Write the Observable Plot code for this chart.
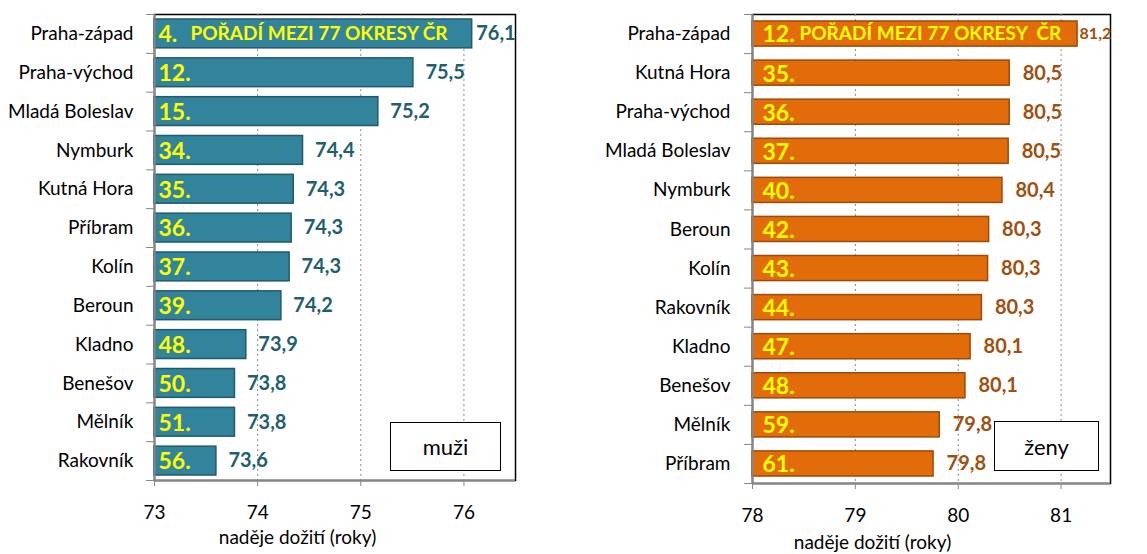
<!DOCTYPE html>
<html>
<head>
<meta charset="utf-8">
<script src="https://cdn.jsdelivr.net/npm/d3@7"></script>
<script src="https://cdn.jsdelivr.net/npm/@observablehq/plot@0.6"></script>
<style>
  html, body { margin: 0; padding: 0; background: white; }
  #wrap { position: relative; width: 1147px; height: 554px; display: flex; overflow: hidden; }
  .note { position: absolute; border: 1.5px solid #000; background: white; box-sizing: border-box;
          font-family: Lato, sans-serif; font-size: 22px; display: flex; align-items: center; justify-content: center; }
</style>
</head>
<body>
<div id="wrap"></div>
<script>
// ---- data ----
const districtsM = ["Praha-západ","Praha-východ","Mladá Boleslav","Nymburk","Kutná Hora","Příbram","Kolín","Beroun","Kladno","Benešov","Mělník","Rakovník"];
const valuesM = [76.08, 75.51, 75.17, 74.44, 74.35, 74.33, 74.31, 74.23, 73.89, 73.78, 73.78, 73.60];
const labelsM = ["76,1","75,5","75,2","74,4","74,3","74,3","74,3","74,2","73,9","73,8","73,8","73,6"];
const ranksM = ["4.","12.","15.","34.","35.","36.","37.","39.","48.","50.","51.","56."];

const districtsF = ["Praha-západ","Kutná Hora","Praha-východ","Mladá Boleslav","Nymburk","Beroun","Kolín","Rakovník","Kladno","Benešov","Mělník","Příbram"];
const valuesF = [81.16, 80.50, 80.50, 80.49, 80.43, 80.30, 80.29, 80.23, 80.12, 80.07, 79.82, 79.76];
const labelsF = ["81,2","80,5","80,5","80,5","80,4","80,3","80,3","80,3","80,1","80,1","79,8","79,8"];
const ranksF = ["12.","35.","36.","37.","40.","42.","43.","44.","47.","48.","59.","61."];

const ticksM = [73, 74, 75, 76];
const ticksF = [78, 79, 80, 81];
const noteText = "POŘADÍ MEZI 77 OKRESY ČR";
const noteTextF = "POŘADÍ MEZI 77 OKRESY  ČR";
const axisTitle = "naděje dožití (roky)";

function panel(o) {
  const n = o.districts.length;
  const data = o.districts.map((d, i) => ({i, d, v: o.values[i], label: o.labels[i], rank: o.ranks[i]}));
  const x0 = o.domain[0];
  return Plot.plot({
    width: o.width, height: 554,
    marginLeft: o.marginLeft, marginRight: o.marginRight, marginTop: 14, marginBottom: o.marginBottom,
    style: {fontFamily: "Lato, sans-serif", fontSize: "19px", color: "#000", background: "white", overflow: "visible"},
    x: {domain: o.domain, label: null},
    y: {domain: [n, 0], label: null},
    marks: [
      Plot.frame({stroke: "#000", strokeWidth: 1.5}),
      Plot.ruleX(o.ticks.slice(1), {stroke: "#8a8a8a", strokeDasharray: "2,3"}),
      Plot.rectX(data, {x1: x0, x2: "v", y1: "i", y2: d => d.i + 1, insetTop: o.inset, insetBottom: o.inset,
        fill: o.barFill, stroke: o.barStroke, strokeWidth: 1.5}),
      Plot.ruleX([x0], {stroke: "#868686", strokeWidth: 2}),
      Plot.ruleY([n], {stroke: "#868686", strokeWidth: 2}),
      Plot.axisX({ticks: o.ticks, tickSize: 6, tickPadding: 19, stroke: "#868686", fill: "#000", fontSize: 19, tickFormat: d => String(d), label: null}),
      Plot.axisY({ticks: d3.range(n + 1), tickSize: 8, tickFormat: () => "", stroke: "#868686", label: null}),
      Plot.axisY({ticks: d3.range(n).map(i => i + 0.5), tickSize: 0, tickPadding: o.labelPad,
        tickFormat: v => o.districts[Math.floor(v)], fill: "#000", fontSize: 19, label: null}),
      Plot.text(data, {x: x0, y: d => d.i + 0.5, text: "rank", dx: o.rankDx, dy: 1, textAnchor: "start",
        fill: "#FFFF00", fontWeight: "bold", fontSize: 23}),
      Plot.text(data.slice(0, 1), {x: x0, y: d => d.i + 0.5, text: () => o.note, dx: o.noteDx, textAnchor: "start",
        fill: "#FFFF00", fontWeight: "bold", fontSize: 19}),
      Plot.text(data.slice(0, 1), {x: "v", y: d => d.i + 0.5, text: "label", dx: o.firstDx, textAnchor: "start",
        fill: o.valueColor, fontWeight: "bold", fontSize: o.firstSize}),
      Plot.text(data.slice(1), {x: "v", y: d => d.i + 0.5, text: "label", dx: o.valueDx, textAnchor: "start",
        fill: o.valueColor, fontWeight: "bold", fontSize: 20}),
      Plot.text([axisTitle], {frameAnchor: "bottom-left", dx: o.titleDx, dy: o.titleDy, textAnchor: "middle",
        fill: "#000", fontSize: 19})
    ]
  });
}

const wrap = document.getElementById("wrap");
wrap.append(panel({
  districts: districtsM, values: valuesM, labels: labelsM, ranks: ranksM,
  domain: [73, 76.5], ticks: ticksM, width: 590, marginLeft: 154, marginRight: 75, marginBottom: 74,
  barFill: "#31849B", barStroke: "#215A68", valueColor: "#215F6E", inset: 5,
  rankDx: 4, note: noteText, noteDx: 36, firstDx: 4, firstSize: 20, valueDx: 12,
  labelPad: 21, titleDx: 143, titleDy: 63
}));
wrap.append(panel({
  districts: districtsF, values: valuesF, labels: labelsF, ranks: ranksF,
  domain: [78, 81.48], ticks: ticksF, width: 557, marginLeft: 162, marginRight: 37, marginBottom: 71,
  barFill: "#E36C0A", barStroke: "#9A4A0A", valueColor: "#A0500F", inset: 7,
  rankDx: 10, note: noteTextF, noteDx: 47, firstDx: 2, firstSize: 16, valueDx: 13,
  labelPad: 22, titleDx: 120, titleDy: 65
}));

const n1 = document.createElement("div");
n1.className = "note"; n1.textContent = "muži";
Object.assign(n1.style, {left: "390px", top: "422px", width: "111px", height: "49px"});
const n2 = document.createElement("div");
n2.className = "note"; n2.textContent = "ženy";
Object.assign(n2.style, {left: "994px", top: "421px", width: "105px", height: "50px"});
wrap.append(n1, n2);
</script>
</body>
</html>
